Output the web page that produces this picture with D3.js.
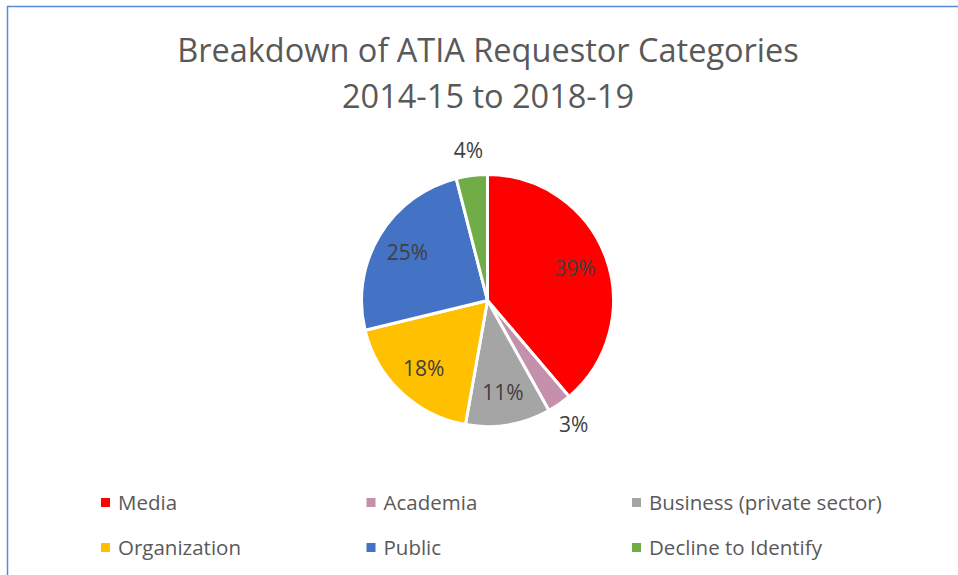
<!DOCTYPE html>
<html>
<head>
<meta charset="utf-8">
<script src="https://cdn.jsdelivr.net/npm/d3@7"></script>
<style>
  body { margin: 0; background: #fff; }
  svg { display: block; font-family: "Open Sans", "Noto Sans", sans-serif; }
</style>
</head>
<body>
<div id="vis"></div>
<script>
// requestor categories, share of requests in %
const categories = ['Media', 'Academia', 'Business (private sector)', 'Organization', 'Public', 'Decline to Identify'];
const shares = [38.8, 3.1, 10.9, 18.4, 24.8, 4.0];
const labels = ['39%', '3%', '11%', '18%', '25%', '4%'];
const sliceColors = ['#ff0000', '#c490ac', '#a5a5a5', '#ffc000', '#4472c4', '#70ad47'];

const width = 958
const height = 575

const data = categories.map(function(c, i) {
  return {name: c, value: shares[i], label: labels[i], color: sliceColors[i]};
});

const svg = d3.select("#vis")
  .append("svg")
  .attr("width", width)
  .attr("height", height);

// chart area border (only left and top show in the picture)
svg.append("rect")
  .attr("x", 7.5)
  .attr("y", 6.5)
  .attr("width", 1000)
  .attr("height", 1000)
  .attr("fill", "none")
  .attr("stroke", "#5a8ad6")
  .attr("stroke-width", 1.5);

// title
const title = svg.append("text")
  .attr("text-anchor", "middle")
  .attr("fill", "#595959")
  .style("font-size", "32.5px");
title.append("tspan").attr("x", 488).attr("y", 62).text("Breakdown of ATIA Requestor Categories");
title.append("tspan").attr("x", 488).attr("y", 108).text("2014-15 to 2018-19");

// pie
const cx = 487.5, cy = 300.5, r = 126;

const pie = d3.pie()
  .value(function(d) { return d.value; })
  .sort(null);

const arc = d3.arc().innerRadius(0).outerRadius(r);
const arcs = pie(data);

const g = svg.append("g").attr("transform", "translate(" + cx + "," + cy + ")");

g.selectAll("path")
  .data(arcs)
  .join("path")
    .attr("d", arc)
    .attr("fill", function(d) { return d.data.color; })
    .attr("stroke", "#fff")
    .attr("stroke-width", 3)
    .attr("stroke-linejoin", "round");

// data labels: inside for big slices, outside for small ones
g.selectAll("text")
  .data(arcs)
  .join("text")
    .attr("transform", function(d) {
      const a = (d.startAngle + d.endAngle) / 2;
      const k = d.data.value < 5 ? 1.2 : 0.74;
      return "translate(" + (Math.sin(a) * r * k) + "," + (-Math.cos(a) * r * k) + ")";
    })
    .attr("text-anchor", "middle")
    .attr("dy", "0.35em")
    .attr("fill", "#404040")
    .style("font-size", "21px")
    .text(function(d) { return d.data.label; });

// legend, 3 columns x 2 rows
const legendX = d3.scaleLinear().domain([0, 1]).range([101, 366.5]);
const legendY = d3.scaleLinear().domain([0, 1]).range([502.5, 547.5]);

const legend = svg.selectAll(".legend")
  .data(data)
  .join("g")
    .attr("class", "legend")
    .attr("transform", function(d, i) {
      return "translate(" + legendX(i % 3) + "," + legendY(Math.floor(i / 3)) + ")";
    });

legend.append("rect")
  .attr("x", 0)
  .attr("y", -4.5)
  .attr("width", 9)
  .attr("height", 9)
  .attr("fill", function(d) { return d.color; });

legend.append("text")
  .attr("x", 17)
  .attr("dy", "0.35em")
  .attr("fill", "#595959")
  .style("font-size", "20.5px")
  .text(function(d) { return d.name; });
</script>
</body>
</html>
